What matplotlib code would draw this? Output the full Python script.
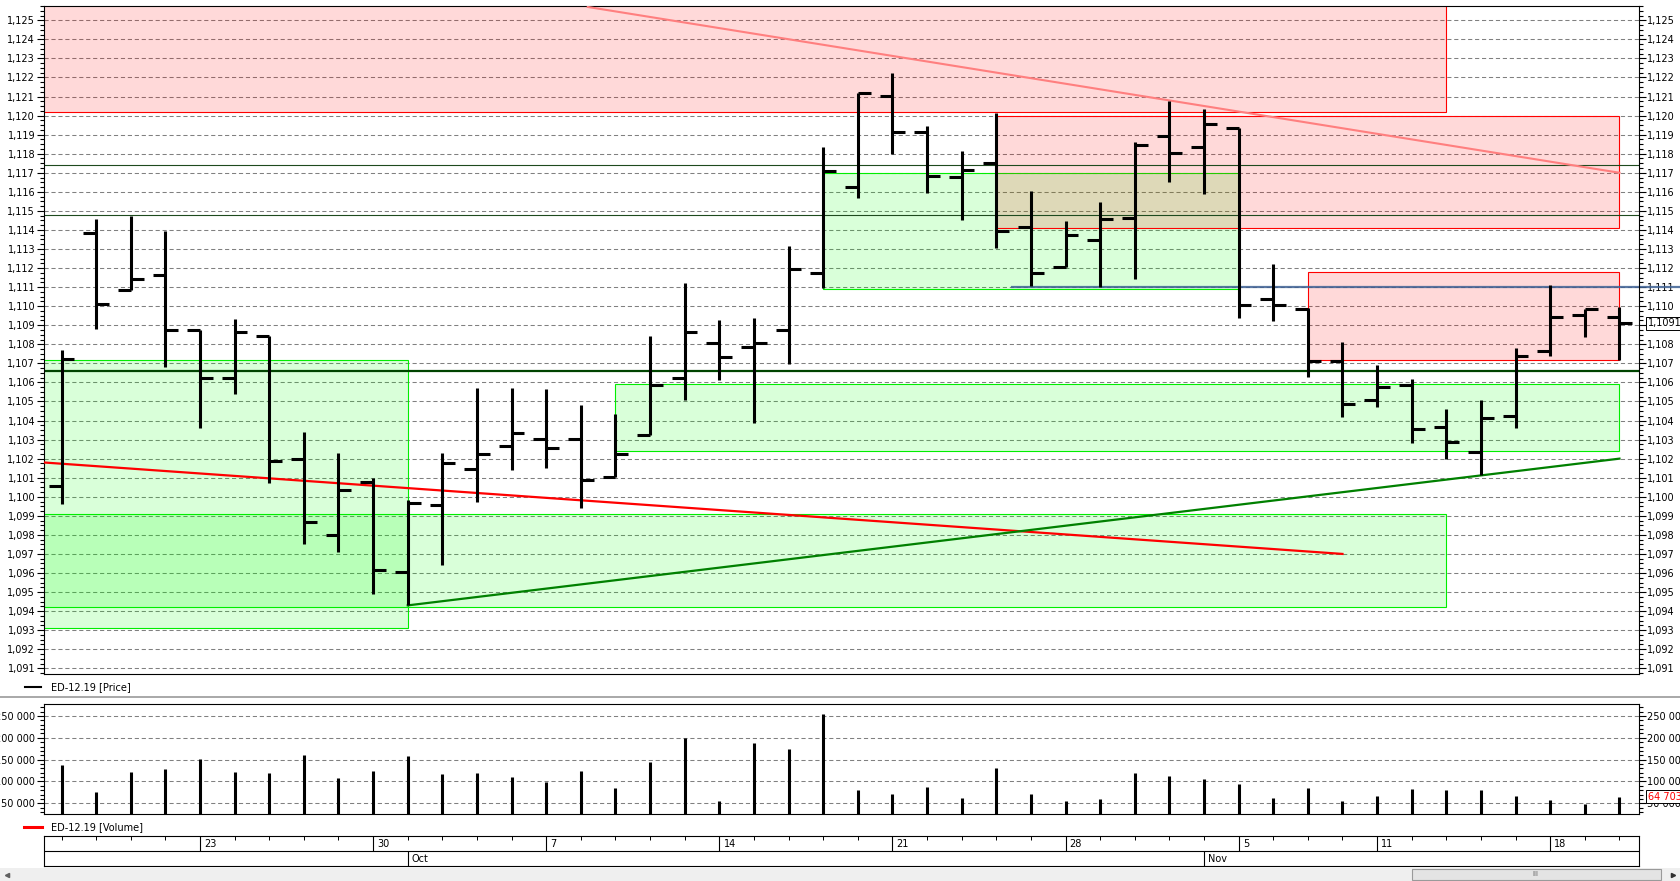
import numpy as np
import matplotlib
matplotlib.use('Agg')
import matplotlib.pyplot as plt
from matplotlib.patches import Rectangle
from matplotlib.ticker import MultipleLocator, FuncFormatter
from matplotlib.transforms import blended_transform_factory
from matplotlib.lines import Line2D

plt.rcParams['font.family'] = 'DejaVu Sans'
plt.rcParams['font.size'] = 7
plt.rcParams['lines.scale_dashes'] = False

# ---- data (bar index 0 = 17 Sep 2019) ----
opens = [1.10056, 1.11383, 1.11083, 1.11161, 1.10873, 1.10621, 1.10843, 1.10198, 1.09797, 1.10077,
         1.09604, 1.09957, 1.10144, 1.10264, 1.10303, 1.10303, 1.10104, 1.10322, 1.10623, 1.10808,
         1.10787, 1.10877, 1.11176, 1.11627, 1.12104, 1.11915, 1.11679, 1.11749, 1.11417, 1.11205,
         1.11347, 1.11462, 1.11892, 1.11835, 1.11934, 1.11036, 1.10984, 1.10714, 1.10506, 1.10585,
         1.10365, 1.10234, 1.10422, 1.10763, 1.10952, 1.10942]
highs = [1.10771, 1.11458, 1.11471, 1.11392, 1.10873, 1.10934, 1.10843, 1.10341, 1.10231, 1.10100,
         1.09985, 1.10231, 1.10572, 1.10572, 1.10563, 1.10483, 1.10432, 1.10841, 1.11123, 1.10926,
         1.10938, 1.11314, 1.11833, 1.12116, 1.12221, 1.11943, 1.11812, 1.12011, 1.11602, 1.11445,
         1.11544, 1.11864, 1.12076, 1.12032, 1.11934, 1.11223, 1.10990, 1.10812, 1.10693, 1.10618,
         1.10461, 1.10506, 1.10781, 1.11113, 1.10984, 1.10995]
lows = [1.09964, 1.10880, 1.11083, 1.10680, 1.10360, 1.10539, 1.10072, 1.09752, 1.09712, 1.09492,
        1.09430, 1.09642, 1.09972, 1.10140, 1.10151, 1.09941, 1.10104, 1.10322, 1.10507, 1.10614,
        1.10385, 1.10697, 1.11093, 1.11565, 1.11801, 1.11592, 1.11454, 1.11303, 1.11107, 1.11205,
        1.11099, 1.11144, 1.11653, 1.11590, 1.10940, 1.10921, 1.10630, 1.10417, 1.10471, 1.10282,
        1.10199, 1.10116, 1.10361, 1.10737, 1.10837, 1.10720]
closes = [1.10724, 1.11014, 1.11145, 1.10873, 1.10621, 1.10862, 1.10186, 1.09868, 1.10035, 1.09616,
          1.09966, 1.10175, 1.10222, 1.10332, 1.10254, 1.10086, 1.10222, 1.10584, 1.10862, 1.10735,
          1.10808, 1.11195, 1.11707, 1.12116, 1.11915, 1.11684, 1.11716, 1.11394, 1.11176, 1.11375,
          1.11457, 1.11845, 1.11803, 1.11955, 1.11008, 1.11005, 1.10714, 1.10485, 1.10576, 1.10354,
          1.10289, 1.10412, 1.10741, 1.10942, 1.10983, 1.10910]
volumes = [137800, 75900, 122500, 129400, 151500, 122500, 120200, 160700, 108800, 124800,
           158400, 117200, 120200, 111100, 99600, 124800, 85900, 145400, 200400, 56100,
           188900, 175200, 255300, 81300, 72100, 88200, 63000, 131700, 72100, 56100,
           59100, 120200, 113400, 105000, 95000, 61400, 84300, 56100, 67500, 82000,
           79800, 79800, 67500, 56900, 49200, 64703]

day_labels = ['23', '30', '7', '14', '21', '28', '5', '11', '18']
day_pos = [4, 9, 14, 19, 24, 29, 34, 38, 43]
month_labels = ['Oct', 'Nov']
month_pos = [10, 33]

# drawn objects: zones (x0, x1, y0, y1), levels, trend lines
green_zones = [(-1, 10, 1.0931, 1.1072), (-1, 40, 1.0942, 1.0991),
               (22, 34, 1.1109, 1.1170), (16, 45, 1.1024, 1.1059)]
red_zones = [(-1, 40, 1.1202, 1.1300), (27, 45, 1.1141, 1.1200), (36, 45, 1.1072, 1.1118)]
thin_levels = [1.1174, 1.1148]
thick_level = 1.1066
blue_level = (27.45, 1.1110)
red_trend = ([-0.52, 37], [1.1018, 1.0970])
green_trend = ([10, 45], [1.0943, 1.1020])
pink_trend = ([15.2, 45], [1.1257, 1.1170])
last_price = 1.1091

x = np.arange(len(opens))
W, H = 1680, 881
fig = plt.figure(figsize=(W / 100, H / 100), dpi=100)
fig.patch.set_facecolor('white')
left, right = 43.5, 1638.5
xlim = (-0.52, 45.55)

def fax(top, bottom):
    return fig.add_axes([left / W, 1 - bottom / H, (right - left) / W, (bottom - top) / H])

ax = fax(6, 674)
axv = fax(704.3, 814.3)
axd = fax(836, 866)

grid_kw = dict(color='#808080', lw=0.75, linestyle=(0, (3, 2)))

# ---- price panel ----
ax.set_xlim(*xlim)
ax.set_ylim(1.0907, 1.12575)
ax.set_axisbelow(True)
ax.yaxis.grid(True, **grid_kw)
for x0, x1, y0, y1 in green_zones:
    ax.add_patch(Rectangle((x0, y0), x1 - x0, y1 - y0, fc=(0, 1, 0, 0.15), ec='#00ee00', lw=0.8))
for x0, x1, y0, y1 in red_zones:
    ax.add_patch(Rectangle((x0, y0), x1 - x0, y1 - y0, fc=(1, 0, 0, 0.15), ec='#ff0000', lw=0.8))
for lv in thin_levels:
    ax.axhline(lv, color='#1e4a1e', lw=0.8, zorder=2)
ax.axhline(thick_level, color='#004400', lw=1.6, zorder=2)
ax.plot([blue_level[0], 48.5], [blue_level[1]] * 2, color='#3d6093', lw=1.6, alpha=0.85,
        zorder=2, clip_on=False)
ax.plot(*pink_trend, color='#ff7f7f', lw=1.5, zorder=3)
ax.plot(*red_trend, color='#ff0000', lw=1.6, zorder=3)
ax.plot(*green_trend, color='#008000', lw=1.6, zorder=3)

tw = 0.37
ax.vlines(x, lows, highs, color='black', lw=2.2, zorder=4)
ax.hlines(opens, x - tw, x, color='black', lw=2.2, zorder=4)
ax.hlines(closes, x, x + tw, color='black', lw=2.2, zorder=4)

ax.yaxis.set_major_locator(MultipleLocator(0.001))
ax.yaxis.set_minor_locator(MultipleLocator(0.00025))
ax.yaxis.set_major_formatter(FuncFormatter(lambda v, p: f'{v:.3f}'.replace('.', ',')))
ax.tick_params(axis='y', which='both', direction='out', left=True, right=True,
               labelleft=True, labelright=True, labelsize=7, pad=1, width=0.8)
ax.tick_params(axis='y', which='major', length=5)
ax.tick_params(axis='y', which='minor', length=3)
ax.tick_params(axis='x', which='both', bottom=False, labelbottom=False)
for s in ax.spines.values():
    s.set_linewidth(0.8)

tr = blended_transform_factory(ax.transAxes, ax.transData)
ax.text(1.0058, last_price, f'{last_price:.4f}'.replace('.', ','), transform=tr, ha='left',
        va='center', fontsize=7, clip_on=False, zorder=6,
        bbox=dict(boxstyle='square,pad=0.15', fc='white', ec='black', lw=0.7))

# ---- volume panel ----
vbot = 24800
axv.set_xlim(*xlim)
axv.set_ylim(vbot, 276800)
axv.set_axisbelow(True)
axv.yaxis.grid(True, **grid_kw)
axv.vlines(x, vbot, volumes, color='black', lw=2.2, zorder=3)
axv.yaxis.set_major_locator(MultipleLocator(50000))
axv.yaxis.set_minor_locator(MultipleLocator(10000))
axv.yaxis.set_major_formatter(FuncFormatter(lambda v, p: f'{int(round(v)):,}'.replace(',', ' ')))
axv.tick_params(axis='y', which='both', direction='out', left=True, right=True,
                labelleft=True, labelright=True, labelsize=7, pad=1, width=0.8)
axv.tick_params(axis='y', which='major', length=5)
axv.tick_params(axis='y', which='minor', length=3)
axv.tick_params(axis='x', which='both', bottom=False, labelbottom=False)
for s in axv.spines.values():
    s.set_linewidth(0.8)
trv = blended_transform_factory(axv.transAxes, axv.transData)
axv.text(1.0058, volumes[-1], f'{volumes[-1]:,}'.replace(',', ' '), transform=trv, ha='left',
         va='center', fontsize=7, color='#ff0000', clip_on=False, zorder=6,
         bbox=dict(boxstyle='square,pad=0.15', fc='white', ec='black', lw=0.7))

# ---- date axis ----
axd.set_xlim(*xlim)
axd.set_ylim(0, 2)
axd.set_xticks([])
axd.set_yticks([])
for s in axd.spines.values():
    s.set_linewidth(0.8)
axd.axhline(1, color='black', lw=0.8)
axd.vlines(x, 1.72, 2, color='black', lw=0.7)
axd.vlines(day_pos, 1, 2, color='black', lw=0.8)
axd.vlines(month_pos, 0, 1, color='black', lw=0.8)
for p, lab in zip(day_pos, day_labels):
    axd.text(p + 0.12, 1.45, lab, ha='left', va='center', fontsize=7)
for p, lab in zip(month_pos, month_labels):
    axd.text(p + 0.12, 0.45, lab, ha='left', va='center', fontsize=7)

# ---- legends / separators ----
def fy(py):
    return 1 - py / H

fig.add_artist(Line2D([25 / W, 41 / W], [fy(686.7)] * 2, color='black', lw=1.5))
fig.text(51 / W, fy(686.7), 'ED-12.19 [Price]', ha='left', va='center', fontsize=7)
fig.add_artist(Line2D([0, 1], [fy(696.7)] * 2, color='#a8a8a8', lw=1.4))
fig.add_artist(Line2D([24 / W, 42 / W], [fy(826.7)] * 2, color='#ff0000', lw=2.2))
fig.text(51 / W, fy(826.7), 'ED-12.19 [Volume]', ha='left', va='center', fontsize=7)

# ---- scrollbar strip ----
axs = fig.add_axes([0, 0, 1, 13 / H])
axs.set_xlim(0, W)
axs.set_ylim(0, 13)
axs.axis('off')
axs.add_patch(Rectangle((0, 0), W, 13, fc='#efefef', ec='none'))
axs.add_patch(Rectangle((1412, 1), 249, 11, fc='#e4e4e4', ec='#9a9a9a', lw=0.8))
axs.text(1535, 6.5, 'III', ha='center', va='center', fontsize=5, color='#606060')
axs.plot([7], [6.5], marker='<', ms=3, color='#606060')
axs.plot([1673], [6.5], marker='>', ms=3, color='#303030')

# the last-price box hides the right-hand 1,109 label, as on the terminal
fig.canvas.draw()
for t in ax.yaxis.get_major_ticks():
    if abs(t.get_loc() - 1.109) < 1e-6:
        t.label2.set_visible(False)

fig.savefig('out.png', dpi=100)
